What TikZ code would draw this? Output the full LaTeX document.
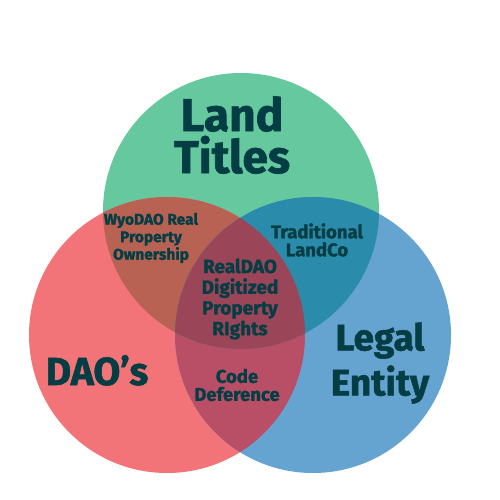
\documentclass[tikz,border=0pt]{standalone}
\usepackage{fontspec}
\setmainfont{Fira Sans}[BoldFeatures={FakeBold=1.4}]
\definecolor{cG}{HTML}{66C89E}
\definecolor{cR}{HTML}{F27478}
\definecolor{cB}{HTML}{65A3D0}
\definecolor{cGR}{HTML}{B76253}
\definecolor{cGB}{HTML}{2A8BAB}
\definecolor{cRB}{HTML}{B84F66}
\definecolor{cAll}{HTML}{9A4658}
\definecolor{ink}{HTML}{043E44}
\tikzset{
  lbl/.style={text=ink, align=center, inner sep=0pt, font=\bfseries},
  big/.style={lbl, font=\fontsize{46}{42}\selectfont\bfseries},
  mid/.style={lbl, font=\fontsize{39}{45}\selectfont\bfseries},
  sm/.style={lbl, font=\fontsize{19}{20.7}\selectfont\bfseries},
  smt/.style={lbl, font=\fontsize{18.5}{18}\selectfont\bfseries},
  xs/.style={lbl, font=\fontsize{15.5}{17.5}\selectfont\bfseries}
}
\begin{document}
\begin{tikzpicture}[x=1pt,y=-1pt]
\useasboundingbox (0,0) rectangle (500,500);
\fill[white] (0,0) rectangle (500,500);
\coordinate (G) at (241,211);
\coordinate (R) at (167,335);
\coordinate (B) at (313,335);
\fill[cG] (G) circle[radius=138pt];
\fill[cR] (R) circle[radius=138pt];
\fill[cB] (B) circle[radius=138pt];
\begin{scope}
  \clip (R) circle[radius=138pt];
  \fill[cRB] (B) circle[radius=138pt];
\end{scope}
\begin{scope}
  \clip (G) circle[radius=138pt];
  \fill[cGR] (R) circle[radius=138pt];
  \fill[cGB] (B) circle[radius=138pt];
  \clip (R) circle[radius=138pt];
  \fill[cAll] (B) circle[radius=138pt];
\end{scope}
\node[big] (land) at (232,135) {Land\\Titles};
\node[mid, anchor=base] (dao) at (97,385) {DAO’s};
\node[mid, font=\fontsize{37}{45}\selectfont\bfseries] (legal) at (380,363) {Legal\\Entity};
\node[xs] (wyo) at (151,238) {WyoDAO Real\\Property\\Ownership};
\node[smt] (trad) at (317,240) {Traditional\\LandCo};
\node[sm] (real) at (240,299) {RealDAO\\Digitized\\Property\\RIghts};
\node[smt] (code) at (237,385) {Code\\Deference};
\end{tikzpicture}
\end{document}
